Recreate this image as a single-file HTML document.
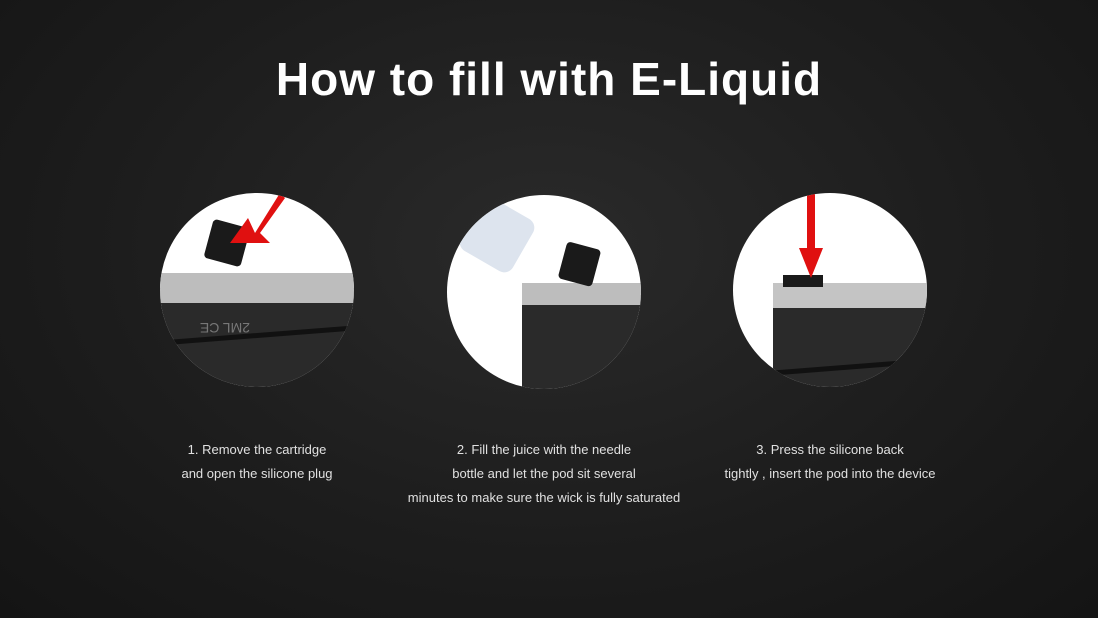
<!DOCTYPE html>
<html><head><meta charset="utf-8"><style>
html,body{margin:0;padding:0}
body{width:1098px;height:618px;overflow:hidden;background:radial-gradient(ellipse at 50% 40%,#2a2a2a 0%,#1d1d1d 55%,#141414 100%);font-family:"Liberation Sans",sans-serif;position:relative}
h1{position:absolute;left:0;width:1098px;top:52px;margin:0;text-align:center;color:#fff;font-size:46px;font-weight:bold;letter-spacing:1px}
.c{position:absolute;width:194px;height:194px;border-radius:50%;background:#fff;overflow:hidden}
.t{position:absolute;color:#e0e0e0;font-size:13px;line-height:24px;text-align:center;width:360px}
</style></head><body>
<h1>How to fill with E-Liquid</h1>

<div class="c" style="left:160px;top:193px">
<svg width="194" height="194">
<rect x="0" y="95" width="194" height="99" fill="#2a2a2a"/>
<rect x="0" y="80" width="194" height="30" fill="#bdbdbd"/>
<path d="M0 150 L194 135" stroke="#111" stroke-width="5"/>
<rect x="48" y="30" width="38" height="40" rx="4" fill="#1a1a1a" transform="rotate(15 67 50)"/>
<text x="90" y="140" fill="#777" font-size="14" transform="rotate(180 90 135)">2ML CE</text>
<path d="M120 0 L95 40 L88 25 L70 50 L110 50 L100 40 L125 5Z" fill="#e01010"/>
</svg></div>

<div class="c" style="left:447px;top:195px">
<svg width="194" height="194">
<rect x="75" y="100" width="119" height="94" fill="#2a2a2a"/>
<rect x="75" y="88" width="119" height="22" fill="#bdbdbd"/>
<rect x="20" y="10" width="60" height="60" rx="10" fill="#dde4ee" transform="rotate(30 50 40)"/>
<rect x="115" y="50" width="35" height="38" rx="4" fill="#1a1a1a" transform="rotate(15 132 69)"/>
</svg></div>

<div class="c" style="left:733px;top:193px">
<svg width="194" height="194">
<rect x="40" y="110" width="154" height="84" fill="#2a2a2a"/>
<rect x="40" y="90" width="154" height="25" fill="#c4c4c4"/>
<rect x="50" y="82" width="40" height="12" fill="#1a1a1a"/>
<path d="M40 180 L194 168" stroke="#111" stroke-width="5"/>
<rect x="74" y="0" width="8" height="60" fill="#e01010"/>
<path d="M66 55 L90 55 L78 85Z" fill="#e01010"/>
</svg></div>

<div class="t" style="left:77px;top:438px">1. Remove the cartridge<br>and open the silicone plug</div>
<div class="t" style="left:364px;top:438px">2. Fill the juice with the needle<br>bottle and let the pod sit several<br>minutes to make sure the wick is fully saturated</div>
<div class="t" style="left:650px;top:438px">3. Press the silicone back<br>tightly , insert the pod into the device</div>
</body></html>
